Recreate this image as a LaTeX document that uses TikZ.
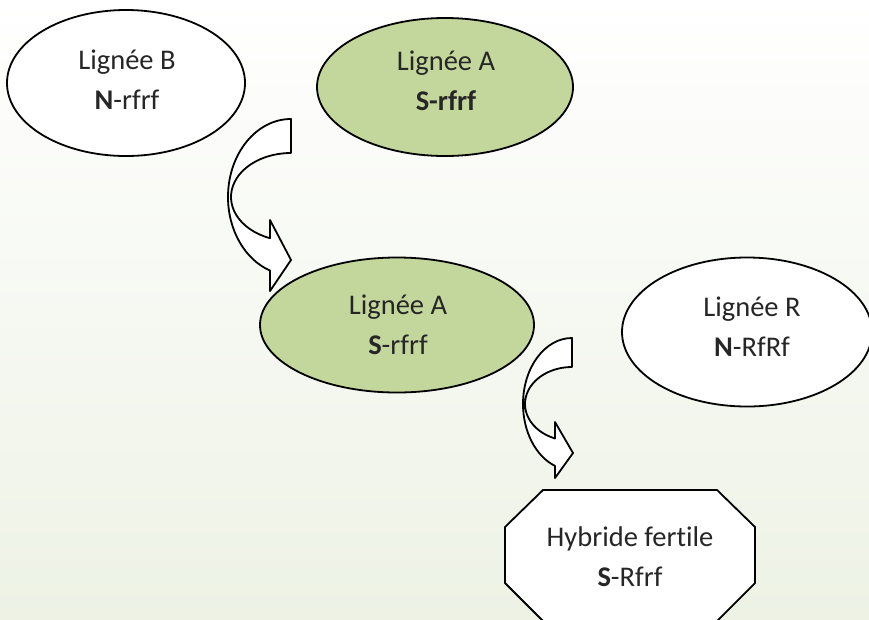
\documentclass[tikz,border=0pt]{standalone}
\usepackage{fontspec}
\setmainfont{Carlito}[Ligatures=CommonOff]
\usetikzlibrary{shapes.geometric,calc}
\definecolor{lgreen}{RGB}{195,214,155}
\definecolor{bgbot}{RGB}{237,242,229}
\begin{document}
\begin{tikzpicture}[x=1pt,y=1pt,
  outl/.style={draw=black,line width=1.8pt,line join=round},
  lbl/.style={font=\fontsize{28.5}{40}\selectfont,align=center,text=black!85},
  ell/.style={ellipse,outl,inner sep=0pt},
  blockarrow/.style={outl,fill=white}]
\useasboundingbox (0,0) rectangle (869,-619);
\fill[top color=white,bottom color=bgbot] (0,0) rectangle (869,-619);

% top row
\node[ell,fill=white,minimum width=238,minimum height=146] (B) at (126,-83) {};
\node[lbl] (Bt) at (127,-80) {Lignée B\\\textbf{N}-rfrf};
\node[ell,fill=lgreen,minimum width=256,minimum height=138] (A1) at (445,-87) {};
\node[lbl] (A1t) at (446,-81) {Lignée A\\\textbf{S-rfrf}};

% upper curved arrow
\draw[blockarrow] (291,-119) arc[start angle=90,end angle=250.5,x radius=63,y radius=78]
  -- (270,-291) -- (291,-260) -- (270,-220) -- (270,-238.2)
  arc[start angle=249.5,end angle=90,x radius=60,y radius=44] -- cycle;

% middle row
\node[ell,fill=lgreen,minimum width=274,minimum height=135] (A2) at (397,-325) {};
\node[lbl] (A2t) at (398,-325) {Lignée A\\\textbf{S}-rfrf};
\node[ell,fill=white,minimum width=250,minimum height=149] (R) at (747,-332) {};
\node[lbl] (Rt) at (752,-327) {Lignée R\\\textbf{N}-RfRf};

% lower curved arrow
\draw[blockarrow] (572,-338) arc[start angle=90,end angle=249.7,x radius=49,y radius=66]
  -- (555,-478) -- (573,-453) -- (555,-422) -- (555,-438.5)
  arc[start angle=248.8,end angle=90,x radius=47,y radius=37] -- cycle;

% hybrid octagon
\coordinate (Hc) at (630,-555);
\draw[outl,fill=white] ($(Hc)+(-87,65)$) -- ($(Hc)+(87,65)$) -- ($(Hc)+(125,28)$) -- ($(Hc)+(125,-28)$)
  -- ($(Hc)+(87,-66)$) -- ($(Hc)+(-87,-66)$) -- ($(Hc)+(-125,-28)$) -- ($(Hc)+(-125,28)$) -- cycle;
\node[lbl] (H) at (630,-557) {Hybride fertile\\\textbf{S}-Rfrf};
\end{tikzpicture}
\end{document}
